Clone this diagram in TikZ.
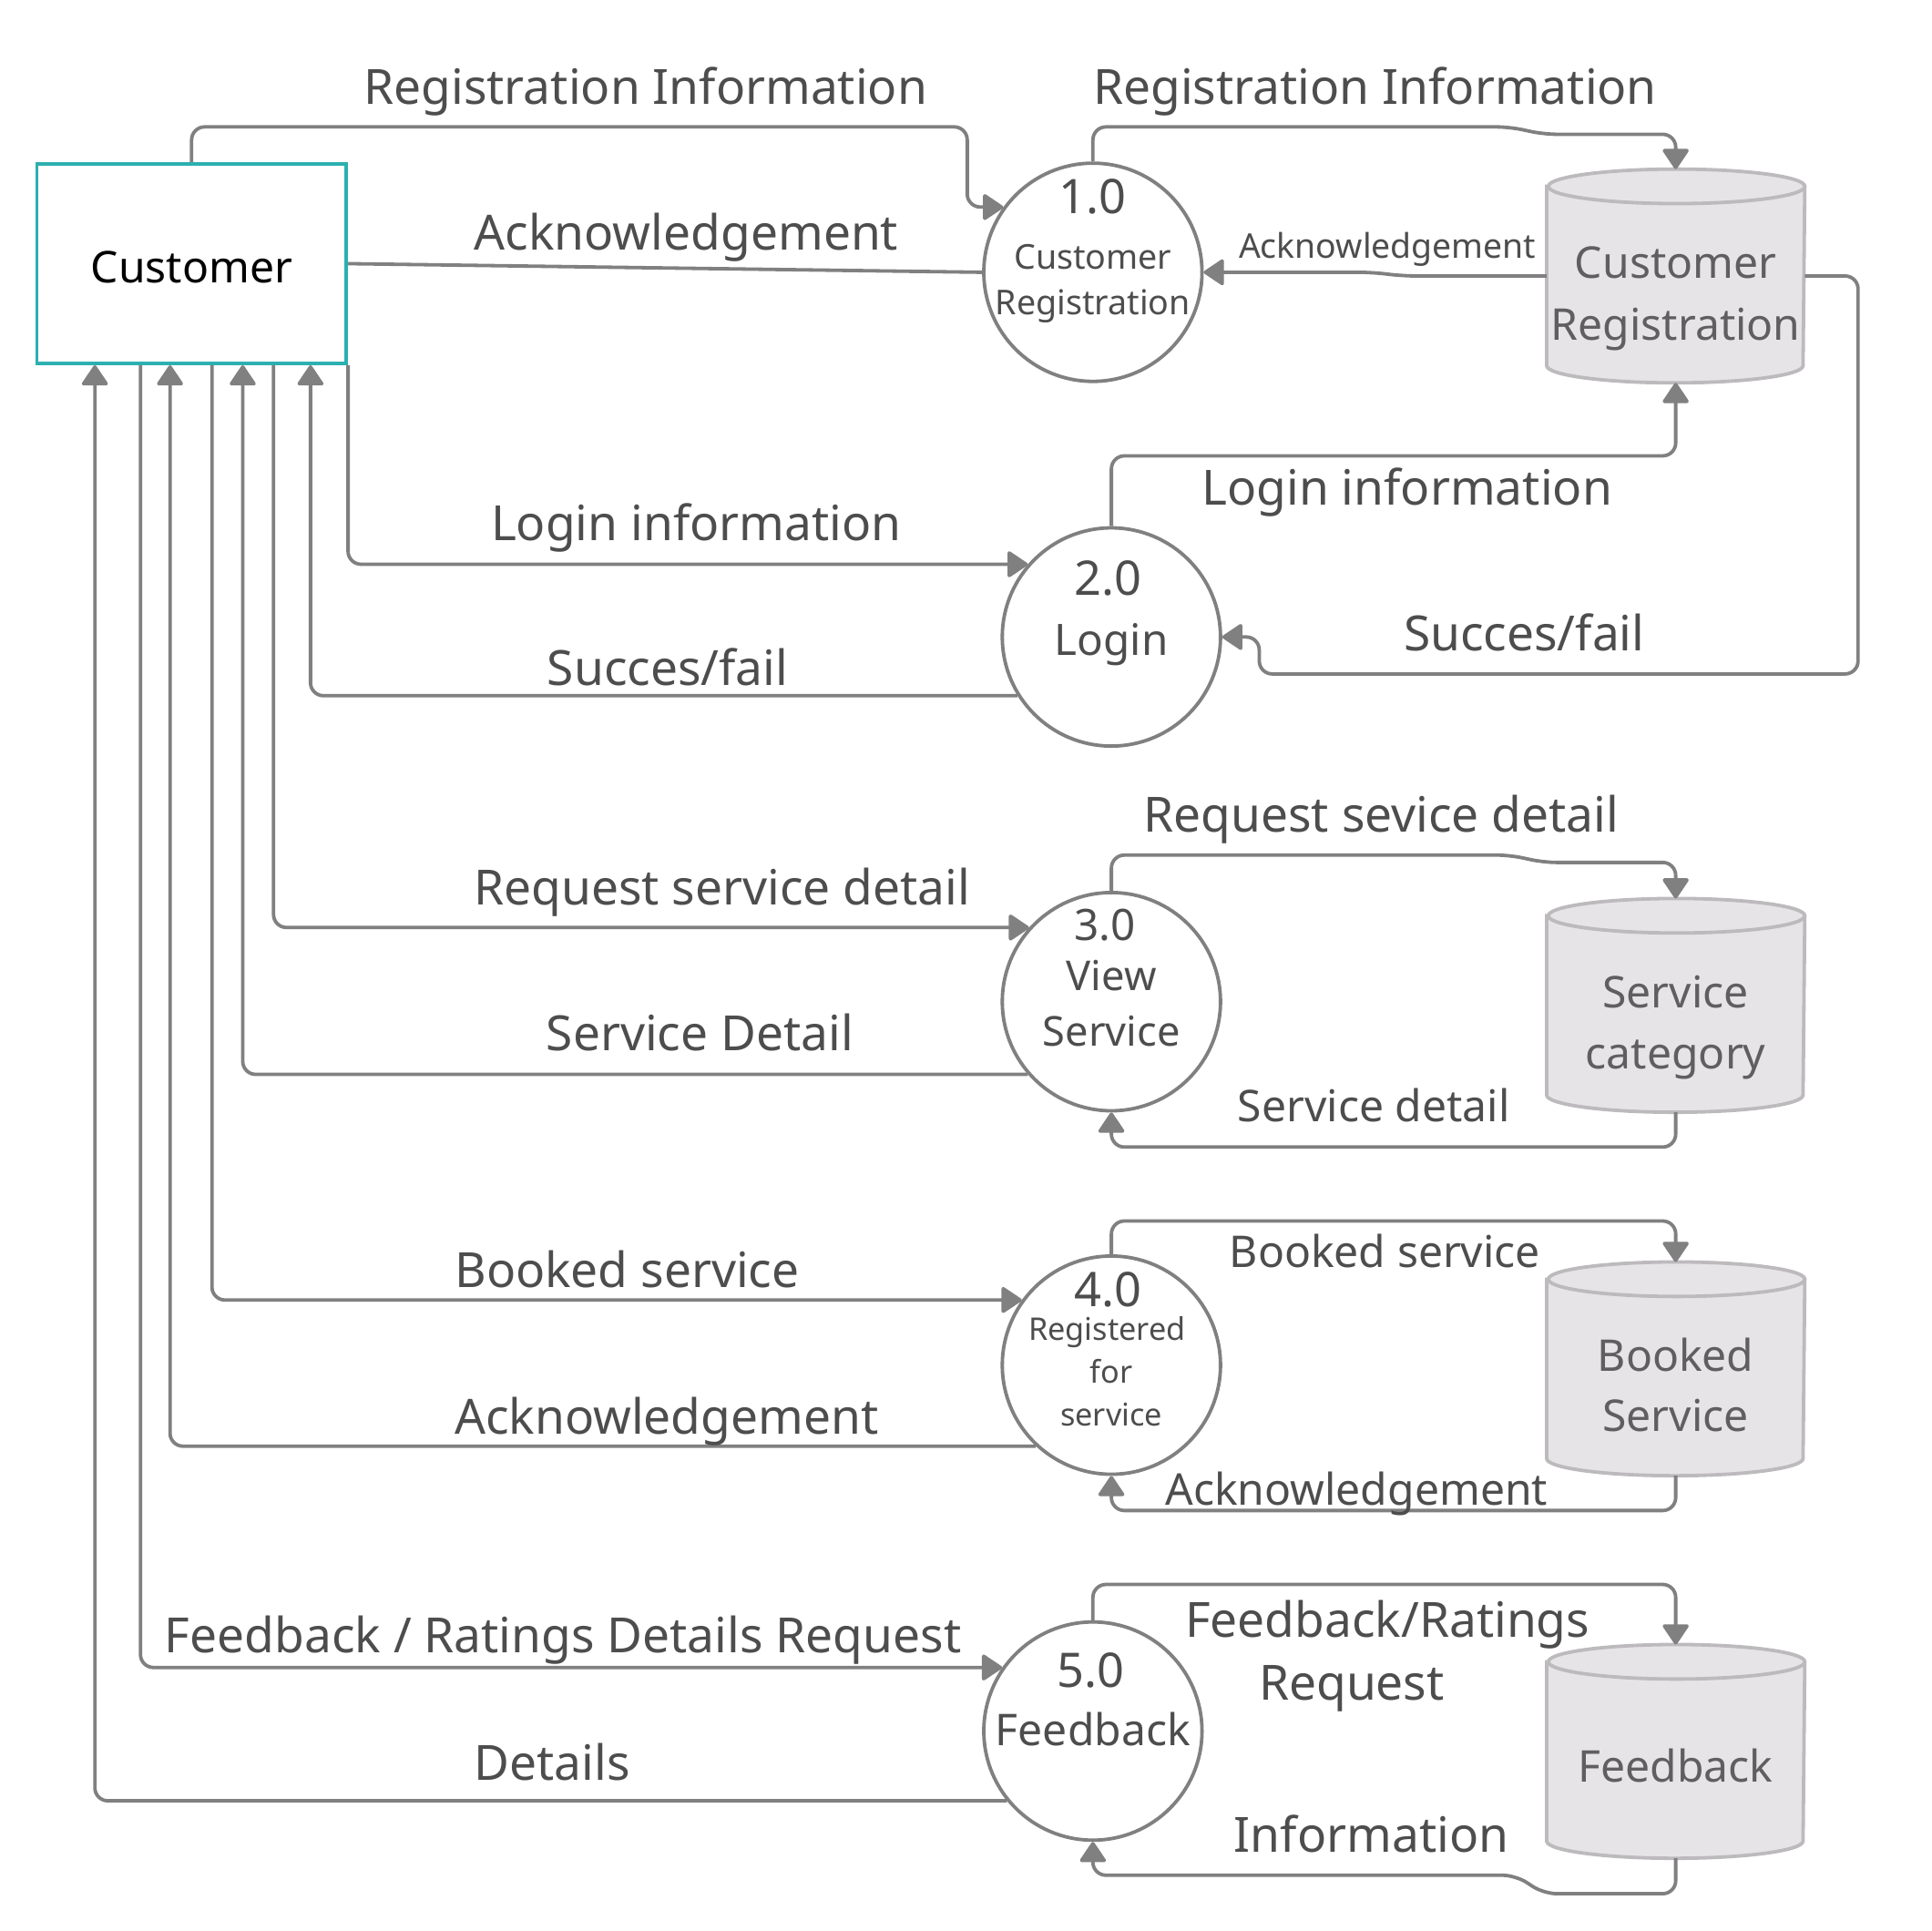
\documentclass[tikz,border=0pt]{standalone}
\usepackage{fontspec}
\setmainfont{Noto Sans}
\usetikzlibrary{arrows.meta}

\definecolor{flowgray}{RGB}{128,128,128}
\definecolor{textgray}{RGB}{77,77,77}
\definecolor{custteal}{RGB}{44,176,176}
\definecolor{storefill}{RGB}{231,228,231}
\definecolor{storeedge}{RGB}{189,186,189}

\tikzset{
  flow/.style={draw=flowgray, line width=0.8pt, rounded corners=3pt},
  arr/.style={-{Triangle[length=5pt,width=6.5pt,round]}},
  entity/.style={draw=custteal, line width=0.8pt, minimum width=2.51cm, minimum height=1.62cm},
  process/.style={circle, draw=flowgray, line width=0.8pt, fill=white, minimum size=1.77cm, inner sep=0pt},
  storebox/.style={minimum width=2.08cm, minimum height=1.72cm, inner sep=0pt},
  storeline/.style={draw=storeedge, line width=0.8pt},
  txt/.style={inner sep=0pt, text height=0.72em, text depth=0pt},
  flowlabel/.style={txt, text=textgray, font=\fontsize{11.2}{14}\selectfont},
  minorlabel/.style={txt, text=textgray, font=\fontsize{10.1}{12}\selectfont},
  proctext/.style={txt, text=textgray},
  storetext/.style={txt, text=textgray!90, font=\fontsize{10.1}{12}\selectfont}
}

% data store drawn as a cylinder round a named box
\def\datastore(#1)(#2){%
  \node[storebox] (#1) at (#2) {};
  \draw[storeline, fill=storefill] ([yshift=-0.14cm]#1.north west) -- ([yshift=0.14cm]#1.south west)
    arc[start angle=180, end angle=360, x radius=1.04cm, y radius=0.14cm]
    -- ([yshift=-0.14cm]#1.north east)
    arc[start angle=0, end angle=180, x radius=1.04cm, y radius=0.14cm] -- cycle;
  \draw[storeline] ([yshift=-0.14cm]#1.north east)
    arc[start angle=0, end angle=-180, x radius=1.04cm, y radius=0.14cm];
}

\begin{document}
\begin{tikzpicture}[x=0.01cm, y=-0.01cm]
		\useasboundingbox (0,0) rectangle (1568,1567);
		%%%%% ENTITY AND PROCESSES %%%%%
		\node[entity] (cust) at (155.5,214) {};
		\node[txt, font=\fontsize{10.1}{12}\selectfont] (custtxt) at (155.5,217) {Customer};
		
		\node[process] (p1) at (887,221) {};
		\node[process] (p2) at (902,517) {};
		\node[process] (p3) at (902,813) {};
		\node[process] (p4) at (902,1108) {};
		\node[process] (p5) at (887,1405) {};
		
		\node[proctext, font=\fontsize{11}{13}\selectfont] (p1a) at (887,160.5) {1.0};
		\node[proctext, font=\fontsize{7.9}{10}\selectfont] (p1b) at (887,205.8) {Customer};
		\node[proctext, font=\fontsize{7.9}{10}\selectfont] (p1c) at (887,242.5) {Registration};
		\node[proctext, font=\fontsize{11}{13}\selectfont] (p2a) at (899,470.4) {2.0};
		\node[proctext, font=\fontsize{10}{12}\selectfont] (p2b) at (902,519.3) {Login};
		\node[proctext, font=\fontsize{10}{12}\selectfont] (p3a) at (897,750.3) {3.0};
		\node[proctext, font=\fontsize{9.5}{12}\selectfont] (p3b) at (902,791) {View};
		\node[proctext, font=\fontsize{9.5}{12}\selectfont] (p3c) at (902,836.6) {Service};
		\node[proctext, font=\fontsize{11}{13}\selectfont] (p4a) at (899,1048) {4.0};
		\node[proctext, font=\fontsize{7.2}{9}\selectfont] (p4b) at (898.5,1075.3) {Registered};
		\node[proctext, font=\fontsize{7.2}{9}\selectfont] (p4c) at (902,1110) {for};
		\node[proctext, font=\fontsize{7.2}{9}\selectfont] (p4d) at (902,1145) {service};
		\node[proctext, font=\fontsize{11}{13}\selectfont] (p5a) at (885,1357) {5.0};
		\node[proctext, font=\fontsize{10.1}{12}\selectfont] (p5b) at (887,1404.4) {Feedback};
		
		%%%%% DATA STORES %%%%%
		\datastore(d1)(1360,224)
		\datastore(d2)(1360,816)
		\datastore(d3)(1360,1111)
		\datastore(d4)(1360,1421.5)
		\node[storetext] (d1a) at (1360,213) {Customer};
		\node[storetext] (d1b) at (1360,263.3) {Registration};
		\node[storetext] (d2a) at (1360,805.3) {Service};
		\node[storetext] (d2b) at (1360,855) {category};
		\node[storetext] (d3a) at (1360,1100.3) {Booked};
		\node[storetext] (d3b) at (1360,1149) {Service};
		\node[storetext] (d4a) at (1360,1434) {Feedback};
		
		%%%%% FLOWS %%%%%
		\draw[flow,arr] (cust.north) |- (785,103) -- (785,168) -- (p1.144);
		\draw[flow,arr] (p1.north) |- (1225,103) -- (1253,109) -| (d1.north);
		\draw[flow] (cust.east) -- (p1.west);
		\draw[flow,arr] (d1.west) -- (1139,224) -- (1113,221) -- (p1.east);
		
		\draw[flow,arr] (cust.south east) |- (p2.139);
		\draw[flow,arr] (p2.north) -- (902,370) -| (d1.south);
		\draw[flow,arr] (d1.east) -| (1508,547) -| (1022,517) -- (p2.east);
		\draw[flow,arr] (p2.212) -| (252,0 |- cust.south);
		
		\draw[flow,arr] (222,0 |- cust.south) |- (p3.138);
		\draw[flow,arr] (p3.north) -- (902,694) -- (1225,694) -- (1253,700) -| (d2.north);
		\draw[flow,arr] (p3.221) -| (197,0 |- cust.south);
		\draw[flow,arr] (d2.south) -- (1360,931) -| (p3.south);
		
		\draw[flow,arr] (172,0 |- cust.south) |- (p4.144);
		\draw[flow,arr] (p4.north) -- (902,991) -| (d3.north);
		\draw[flow,arr] (p4.227) -| (138,0 |- cust.south);
		\draw[flow,arr] (d3.south) -- (1360,1226) -| (p4.south);
		
		\draw[flow,arr] (114,0 |- cust.south) |- (p5.145);
		\draw[flow,arr] (p5.north) -- (887,1286) -| (d4.north);
		\draw[flow,arr] (p5.219) -| (77,0 |- cust.south);
		\draw[flow,arr] (d4.south) |- (1253,1537) -- (1230,1522) -| (p5.south);
		
		%%%%% LABELS %%%%%
		\node[flowlabel] (lreg1) at (524,72) {Registration Information};
		\node[flowlabel] (lreg2) at (1116,72) {Registration Information};
		\node[flowlabel] (lack1) at (557,190) {Acknowledgement};
		\node[flowlabel, font=\fontsize{7.85}{10}\selectfont] (lack2) at (1126,197) {Acknowledgement};
		\node[flowlabel] (llog1) at (565,426) {Login information};
		\node[flowlabel] (llog2) at (1142,397) {Login information};
		\node[flowlabel] (lsuc1) at (542,544) {Succes/fail};
		\node[flowlabel] (lsuc2) at (1237,515.2) {Succes/fail};
		\node[flowlabel] (lreq1) at (586,722) {Request service detail};
		\node[flowlabel] (lreq2) at (1121,663) {Request sevice detail};
		\node[flowlabel] (lsrv1) at (568,840) {Service Detail};
		\node[minorlabel] (lsrv2) at (1115,897.6) {Service detail};
		\node[flowlabel] (lbok1) at (509,1032) {Booked service};
		\node[minorlabel] (lbok2) at (1124,1016) {Booked service};
		\node[flowlabel] (lack3) at (541,1151) {Acknowledgement};
		\node[minorlabel] (lack4) at (1101,1208.7) {Acknowledgement};
		\node[flowlabel] (lfb1) at (457,1329) {Feedback / Ratings Details Request};
		\node[flowlabel] (lfb2) at (1126,1316) {Feedback/Ratings};
		\node[flowlabel] (lfb3) at (1097,1367) {Request};
		\node[flowlabel] (ldet) at (448,1432) {Details};
		\node[flowlabel] (linf) at (1113,1491) {Information};
		%%%%% END %%%%%
\end{tikzpicture}
\end{document}
